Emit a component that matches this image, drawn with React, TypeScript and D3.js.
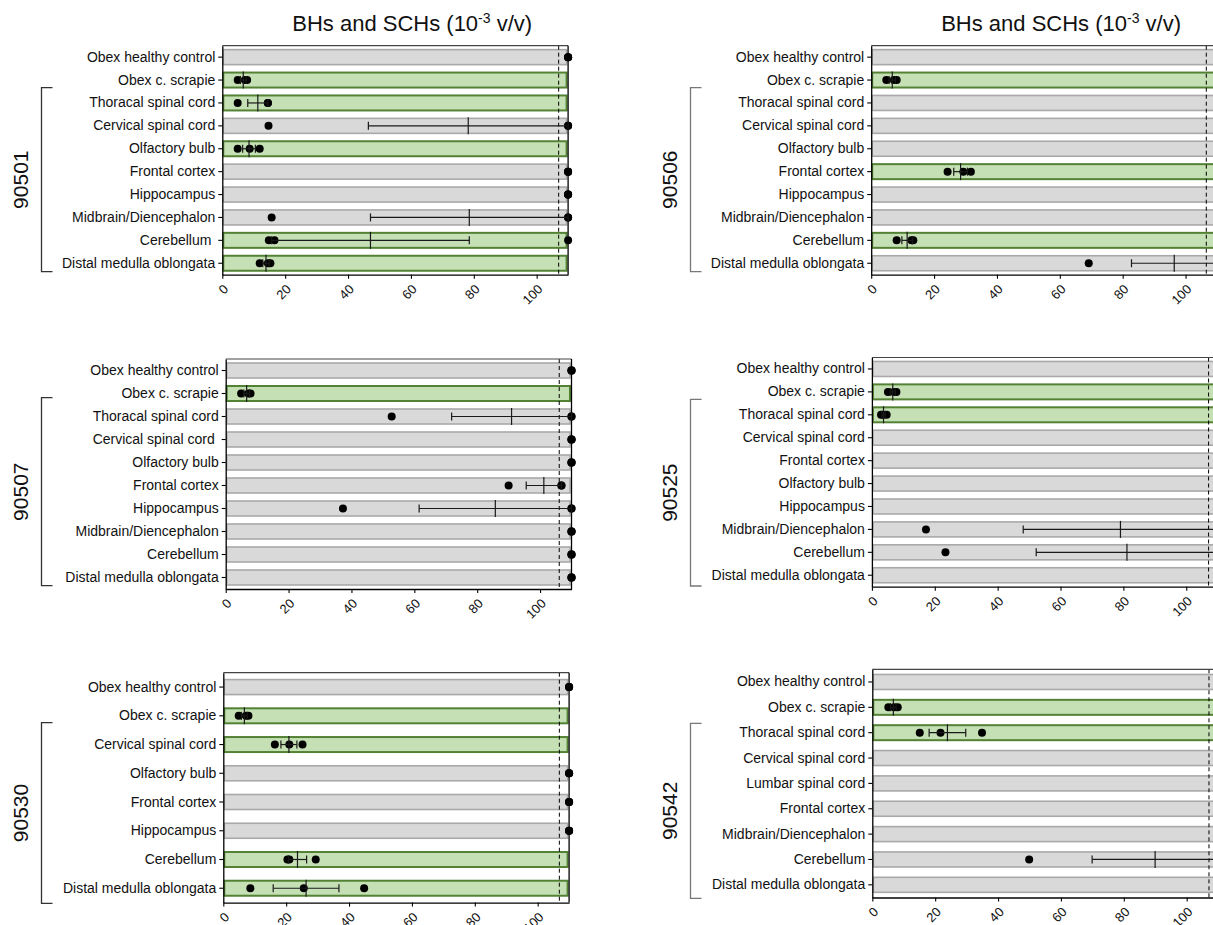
import React, { useEffect, useRef } from "react";
import * as d3 from "d3";

// upper end of the axis; negative samples are plotted here
const AXIS_MAX = 110;
const xTicks = [0, 20, 40, 60, 80, 100];

// ---- 90501 ----
const tissues90501 = [
	"Obex healthy control",
	"Obex c. scrapie",
	"Thoracal spinal cord",
	"Cervical spinal cord",
	"Olfactory bulb",
	"Frontal cortex",
	"Hippocampus",
	"Midbrain/Diencephalon",
	"Cerebellum\u00a0",
	"Distal medulla oblongata",
];
const values90501 = [
	[110, 110, 110],
	[4.9, 7.2, 7.9],
	[4.9, 14.5, 14.5],
	[14.7, 110, 110],
	[4.9, 8.7, 11.9],
	[110, 110, 110],
	[110, 110, 110],
	[15.7, 110, 110],
	[14.8, 16.6, 110],
	[11.9, 14.5, 15.3],
];
const positive90501 = [0, 1, 1, 0, 1, 0, 0, 0, 1, 1];
const cutoff90501 = 107;

// ---- 90507 ----
const tissues90507 = [
	"Obex healthy control",
	"Obex c. scrapie",
	"Thoracal spinal cord",
	"Cervical spinal cord\u00a0",
	"Olfactory bulb",
	"Frontal cortex",
	"Hippocampus",
	"Midbrain/Diencephalon",
	"Cerebellum",
	"Distal medulla oblongata",
];
const values90507 = [
	[110, 110, 110],
	[4.9, 7.2, 7.9],
	[52.8, 110, 110],
	[110, 110, 110],
	[110, 110, 110],
	[90, 106.8, 106.8],
	[37.3, 110, 110],
	[110, 110, 110],
	[110, 110, 110],
	[110, 110, 110],
];
const positive90507 = [0, 1, 0, 0, 0, 0, 0, 0, 0, 0];
const cutoff90507 = 106.1;

// ---- 90530 ----
const tissues90530 = [
	"Obex healthy control",
	"Obex c. scrapie",
	"Cervical spinal cord",
	"Olfactory bulb",
	"Frontal cortex",
	"Hippocampus",
	"Cerebellum",
	"Distal medulla oblongata",
];
const values90530 = [
	[110, 110, 110],
	[4.9, 7.2, 8.0],
	[16.4, 21.0, 25.2],
	[110, 110, 110],
	[110, 110, 110],
	[110, 110, 110],
	[20.4, 21.0, 29.4],
	[8.6, 25.6, 44.8],
];
const positive90530 = [0, 1, 1, 0, 0, 0, 1, 1];
const cutoff90530 = 106.9;

// ---- 90506 ----
const tissues90506 = [
	"Obex healthy control",
	"Obex c. scrapie",
	"Thoracal spinal cord",
	"Cervical spinal cord",
	"Olfactory bulb",
	"Frontal cortex",
	"Hippocampus",
	"Midbrain/Diencephalon",
	"Cerebellum",
	"Distal medulla oblongata",
];
const values90506 = [
	[110, 110, 110],
	[4.8, 7.2, 8.1],
	[110, 110, 110],
	[110, 110, 110],
	[110, 110, 110],
	[24.3, 29.3, 31.7],
	[110, 110, 110],
	[110, 110, 110],
	[8.1, 12.8, 13.4],
	[69.2, 110, 110],
];
const positive90506 = [0, 1, 0, 0, 0, 1, 0, 0, 1, 0];
const cutoff90506 = 106.6;

// ---- 90525 ----
const tissues90525 = [
	"Obex healthy control",
	"Obex c. scrapie",
	"Thoracal spinal cord",
	"Cervical spinal cord",
	"Frontal cortex",
	"Olfactory bulb",
	"Hippocampus",
	"Midbrain/Diencephalon",
	"Cerebellum",
	"Distal medulla oblongata",
];
const values90525 = [
	[110, 110, 110],
	[5.1, 7.0, 7.8],
	[2.9, 3.5, 4.7],
	[110, 110, 110],
	[110, 110, 110],
	[110, 110, 110],
	[110, 110, 110],
	[17.2, 110, 110],
	[23.4, 110, 110],
	[110, 110, 110],
];
const positive90525 = [0, 1, 1, 0, 0, 0, 0, 0, 0, 0];
const cutoff90525 = 107.1;

// ---- 90542 ----
const tissues90542 = [
	"Obex healthy control",
	"Obex c. scrapie",
	"Thoracal spinal cord",
	"Cervical spinal cord",
	"Lumbar spinal cord",
	"Frontal cortex",
	"Midbrain/Diencephalon",
	"Cerebellum",
	"Distal medulla oblongata",
];
const values90542 = [
	[110, 110, 110],
	[5.1, 6.9, 8.1],
	[15.1, 21.7, 34.9],
	[110, 110, 110],
	[110, 110, 110],
	[110, 110, 110],
	[110, 110, 110],
	[49.9, 110, 110],
	[110, 110, 110],
];
const positive90542 = [0, 1, 1, 0, 0, 0, 0, 0, 0];
const cutoff90542 = 107.1;

const FONT = "'Liberation Sans', Arial, sans-serif";

export default function App() {
	const svgRef = useRef<SVGSVGElement>(null);

	useEffect(() => {
		if (!svgRef.current) return;
		const svg = d3.select(svgRef.current);
		svg.selectAll("*").remove();

		// page layout of the six panels (pixel positions)
		const panels = [
			{ id: "90501", tissues: tissues90501, values: values90501, positive: positive90501, cutoff: cutoff90501, left: 222.3, top: 45.7, bottom: 274.7, br: [87.7, 271.7], brX: 41.5, title: true, brColor: "#333" },
			{ id: "90507", tissues: tissues90507, values: values90507, positive: positive90507, cutoff: cutoff90507, left: 225.7, top: 359, bottom: 589, br: [397.7, 585.7], brX: 41.5, title: false, brColor: "#333" },
			{ id: "90530", tissues: tissues90530, values: values90530, positive: positive90530, cutoff: cutoff90530, left: 223.3, top: 672.7, bottom: 902.6, br: [722.7, 903.3], brX: 41.5, title: false, brColor: "#333" },
			{ id: "90506", tissues: tissues90506, values: values90506, positive: positive90506, cutoff: cutoff90506, left: 871.2, top: 45.7, bottom: 274.7, br: [87.7, 271.7], brX: 690.5, title: true, brColor: "#777" },
			{ id: "90525", tissues: tissues90525, values: values90525, positive: positive90525, cutoff: cutoff90525, left: 871.9, top: 357.5, bottom: 586.7, br: [399.3, 586], brX: 690.5, title: false, brColor: "#777" },
			{ id: "90542", tissues: tissues90542, values: values90542, positive: positive90542, cutoff: cutoff90542, left: 872.3, top: 669.3, bottom: 897.5, br: [723.3, 898.3], brX: 690.5, title: false, brColor: "#777" },
		];

		const plotWidth = 345.8;
		const barH = 15;

		panels.forEach((p) => {
			const g = svg.append("g");
			const x = d3.scaleLinear().domain([0, AXIS_MAX]).range([p.left, p.left + plotWidth]);
			const y = d3.scaleBand().domain(p.tissues).range([p.top, p.bottom]);
			const rows = p.tissues.map((t, i) => ({
				tissue: t,
				vals: p.values[i],
				pos: p.positive[i] === 1,
				cy: (y(t) ?? 0) + y.bandwidth() / 2,
			}));

			// bars
			g.selectAll("rect.bar")
				.data(rows)
				.join("rect")
				.attr("class", "bar")
				.attr("x", x(0) + 1)
				.attr("width", x(AXIS_MAX) - x(0) - 2.5)
				.attr("y", (d) => d.cy - barH / 2)
				.attr("height", barH)
				.attr("fill", (d) => (d.pos ? "#c5e0b4" : "#d9d9d9"))
				.attr("stroke", (d) => (d.pos ? "#548235" : "#a9a9a9"))
				.attr("stroke-width", (d) => (d.pos ? 2 : 1.6));

			// cutoff
			g.append("line")
				.attr("x1", x(p.cutoff))
				.attr("x2", x(p.cutoff))
				.attr("y1", p.top)
				.attr("y2", p.bottom)
				.attr("stroke", "#000")
				.attr("stroke-width", 1)
				.attr("stroke-dasharray", "4,3");

			// frame top + right
			g.append("line")
				.attr("x1", x(0))
				.attr("x2", x(AXIS_MAX))
				.attr("y1", p.top)
				.attr("y2", p.top)
				.attr("stroke", "#444")
				.attr("stroke-width", 1.2);
			g.append("line")
				.attr("x1", x(AXIS_MAX))
				.attr("x2", x(AXIS_MAX))
				.attr("y1", p.top)
				.attr("y2", p.bottom)
				.attr("stroke", "#000")
				.attr("stroke-width", 1.3);

			// dots
			rows.forEach((r) => {
				g.selectAll(null)
					.data(r.vals)
					.join("circle")
					.attr("cx", (v) => x(Math.min(v, AXIS_MAX)))
					.attr("cy", r.cy)
					.attr("r", 4)
					.attr("fill", "#000");
			});

			// mean +- SEM
			rows.forEach((r) => {
				const m = d3.mean(r.vals) ?? 0;
				const sd = d3.deviation(r.vals) ?? 0;
				if (sd < 1e-6) return;
				const sem = sd / Math.sqrt(r.vals.length);
				const lo = Math.max(0, m - sem);
				const hi = Math.min(AXIS_MAX, m + sem);
				const eg = g.append("g").attr("stroke", "#1a1a1a").attr("stroke-width", 1.2);
				eg.append("line").attr("x1", x(lo)).attr("x2", x(hi)).attr("y1", r.cy).attr("y2", r.cy);
				[lo, hi].forEach((v) =>
					eg.append("line").attr("x1", x(v)).attr("x2", x(v)).attr("y1", r.cy - 4).attr("y2", r.cy + 4)
				);
				eg.append("line").attr("x1", x(m)).attr("x2", x(m)).attr("y1", r.cy - 8.5).attr("y2", r.cy + 8.5);
			});

			// y axis
			const yAxis = g
				.append("g")
				.attr("transform", `translate(${x(0)},0)`)
				.call(d3.axisLeft(y).tickSize(4).tickSizeOuter(0).tickPadding(3));
			yAxis.select(".domain").attr("stroke", "#000").attr("stroke-width", 1.3);
			yAxis.selectAll(".tick line").attr("stroke", "#000").attr("stroke-width", 1.1);
			yAxis
				.selectAll(".tick text")
				.attr("font-family", FONT)
				.attr("font-size", 14)
				.attr("fill", "#111");

			// x axis
			const xAxis = g
				.append("g")
				.attr("transform", `translate(0,${p.bottom})`)
				.call(d3.axisBottom(x).tickValues(xTicks).tickSize(4).tickSizeOuter(0));
			xAxis.select(".domain").attr("stroke", "#000").attr("stroke-width", 1.3);
			xAxis.selectAll(".tick line").attr("stroke", "#000").attr("stroke-width", 1.1);
			xAxis
				.selectAll(".tick text")
				.attr("font-family", FONT)
				.attr("font-size", 13)
				.attr("fill", "#111")
				.attr("text-anchor", "end")
				.attr("y", 0)
				.attr("dy", "0.35em")
				.attr("transform", "translate(3,12) rotate(-45)");

			// bracket + animal id
			g.append("path")
				.attr("d", `M${p.brX + 11},${p.br[0]}H${p.brX}V${p.br[1]}H${p.brX + 11}`)
				.attr("fill", "none")
				.attr("stroke", p.brColor)
				.attr("stroke-width", 1.3);
			const mid = (p.br[0] + p.br[1]) / 2;
			g.append("text")
				.attr("transform", `translate(${p.brX - 14},${mid}) rotate(-90)`)
				.attr("text-anchor", "middle")
				.attr("font-family", FONT)
				.attr("font-size", 21)
				.attr("fill", "#111")
				.text(p.id);

			if (p.title) {
				const t = g
					.append("text")
					.attr("x", (x(0) + x(AXIS_MAX)) / 2 + 17)
					.attr("y", 31)
					.attr("text-anchor", "middle")
					.attr("font-family", FONT)
					.attr("font-size", 22)
					.attr("fill", "#111");
				t.append("tspan").text("BHs and SCHs (10");
				t.append("tspan").attr("font-size", 14).attr("dy", -8).text("-3");
				t.append("tspan").attr("dy", 8).text(" v/v)");
			}
		});
	}, []);

	return (
		<div>
			<svg
				ref={svgRef}
				width={1213}
				height={925}
				style={{ position: "absolute", left: 0, top: 0, background: "#fff" }}
			></svg>
		</div>
	);
}
